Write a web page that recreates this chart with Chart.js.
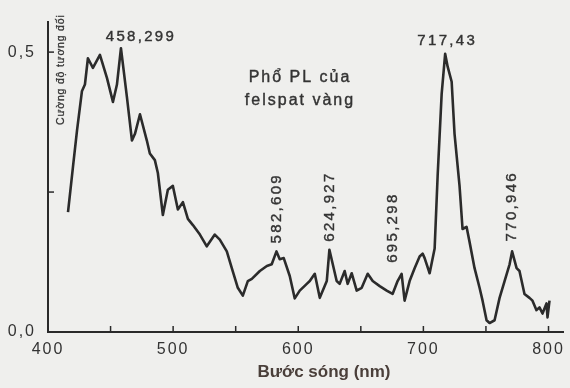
<!DOCTYPE html>
<html><head><meta charset="utf-8">
<script src="https://cdn.jsdelivr.net/npm/chart.js@4.4.1/dist/chart.umd.min.js"></script>
<style>html,body{margin:0;padding:0;background:#efefed;}#wrap{width:570px;height:388px;position:relative;}</style>
</head><body><div id="wrap"><canvas id="c" width="570" height="388"></canvas></div>
<script>
const wavelengths = [416.0,420.0,423.2,427.1,429.5,431.9,435.9,441.5,447.1,451.9,455.1,458.3,463.1,467.1,469.5,473.5,479.0,481.4,485.4,487.8,491.8,495.8,499.8,503.8,507.8,511.8,515.8,521.4,526.9,533.3,537.3,542.9,546.9,551.7,555.7,559.7,562.9,569.3,574.9,578.8,582.6,585.2,588.4,593.2,597.2,601.2,606.8,609.2,613.2,617.2,622.8,624.9,630.7,633.1,637.1,639.5,642.7,646.7,650.7,655.5,659.5,665.1,670.7,675.4,679.4,682.6,685.0,689.0,693.0,697.0,699.4,701.0,705.0,709.0,711.4,714.6,717.4,719.4,722.6,724.9,728.9,731.3,734.5,736.9,740.9,744.9,747.3,750.5,752.9,756.9,760.9,764.9,768.9,770.9,774.5,776.8,780.8,784.8,787.2,790.4,792.8,795.2,798.4,799.2,800.8];
const intensity = [0.214,0.296,0.360,0.430,0.442,0.489,0.472,0.495,0.454,0.411,0.442,0.507,0.419,0.342,0.354,0.389,0.342,0.319,0.307,0.284,0.209,0.254,0.261,0.219,0.232,0.202,0.191,0.174,0.153,0.174,0.165,0.144,0.114,0.079,0.065,0.091,0.095,0.109,0.118,0.121,0.144,0.130,0.132,0.100,0.060,0.074,0.086,0.091,0.104,0.061,0.091,0.147,0.091,0.086,0.109,0.086,0.105,0.074,0.079,0.104,0.091,0.082,0.074,0.068,0.091,0.104,0.056,0.091,0.114,0.135,0.140,0.132,0.105,0.149,0.279,0.425,0.497,0.474,0.447,0.354,0.261,0.184,0.188,0.161,0.114,0.079,0.056,0.021,0.016,0.021,0.061,0.091,0.121,0.144,0.114,0.109,0.068,0.061,0.056,0.039,0.044,0.033,0.051,0.026,0.056];
const xTickValues = [400,450,500,550,600,650,700,750,800];
const xTickLabels = ['400','','500','','600','','700','','800'];
const yTickValues = [0,0.25,0.5];
const yTickLabels = ['0,0','','0,5'];
const peakLabels = ['458,299','582,609','624,927','695,298','717,43','770,946'];
const peakWavelengths = [458.299,582.609,624.927,695.298,717.43,770.946];
const peakHeights = [0.507,0.144,0.147,0.104,0.497,0.144];
const titleLines = ['Phổ PL của','felspat vàng'];
const xTitle = 'Bước sóng (nm)';
const yTitle = 'Cường độ tương đối';

// layout of the peak annotations (pixel offsets from the peak)
const peakPlacement = [
  {rot:false, dx:20, dy:-7},
  {rot:true, dx:0, dy:-8},
  {rot:true, dx:0, dy:-8},
  {rot:true, dx:-25, dy:-11},
  {rot:false, dx:2, dy:-9},
  {rot:true, dx:0, dy:-10}
];
const INK = '#333333';
const FONT = '"Liberation Sans", Arial, sans-serif';

function heavyText(ctx, t, x, y, w){
  ctx.lineWidth = w; ctx.strokeStyle = ctx.fillStyle;
  ctx.strokeText(t, x, y); ctx.fillText(t, x, y);
}

const decor = {
  id:'decor',
  beforeDraw(chart){ chart.ctx.letterSpacing = '2px'; },
  afterDraw(chart){
    const {ctx, scales:{x,y}, chartArea:a} = chart;
    ctx.save();
    ctx.strokeStyle = '#2a2a2a'; ctx.lineWidth = 1.5;
    // inward tick marks
    xTickValues.forEach(v=>{ const px=x.getPixelForValue(v); ctx.beginPath(); ctx.moveTo(px,a.bottom); ctx.lineTo(px,a.bottom-6); ctx.stroke(); });
    yTickValues.forEach(v=>{ if(v===0) return; const py=y.getPixelForValue(v); ctx.beginPath(); ctx.moveTo(a.left,py); ctx.lineTo(a.left+6,py); ctx.stroke(); });
    ctx.fillStyle = INK;
    // peak annotations
    ctx.font = '15px '+FONT; ctx.letterSpacing='2.3px';
    peakLabels.forEach((t,i)=>{
      const p = peakPlacement[i];
      const px = x.getPixelForValue(peakWavelengths[i]) + p.dx;
      const py = y.getPixelForValue(peakHeights[i]) + p.dy;
      ctx.save();
      if(p.rot){ ctx.translate(px,py); ctx.rotate(-Math.PI/2); ctx.textAlign='left'; ctx.textBaseline='middle'; heavyText(ctx,t,0,0,0.4); }
      else { ctx.textAlign='center'; ctx.textBaseline='alphabetic'; heavyText(ctx,t,px,py,0.4); }
      ctx.restore();
    });
    // title
    ctx.font = '16px '+FONT; ctx.letterSpacing='2px'; ctx.textAlign='center'; ctx.textBaseline='alphabetic';
    heavyText(ctx, titleLines[0], 300, 82, 0.4);
    heavyText(ctx, titleLines[1], 300, 105, 0.4);
    // x title
    ctx.font = 'bold 17px '+FONT; ctx.letterSpacing='0px'; ctx.fillStyle='#4a3f3a';
    ctx.fillText(xTitle, 324, 377);
    // y title
    ctx.fillStyle = INK;
    ctx.font = '10.5px '+FONT; ctx.letterSpacing='0.8px';
    ctx.save(); ctx.translate(61,125); ctx.rotate(-Math.PI/2); ctx.textAlign='left'; ctx.textBaseline='middle'; heavyText(ctx,yTitle,0,0,0.3); ctx.restore();
    ctx.restore();
  }
};

new Chart(document.getElementById('c'), {
  type:'line',
  data:{ datasets:[{ data: wavelengths.map((w,i)=>({x:w,y:intensity[i]})), borderColor:'#2b2b2b', borderWidth:2.6, pointRadius:0, tension:0, fill:false, borderJoinStyle:'round' }] },
  options:{
    responsive:false, devicePixelRatio:1, animation:false,
    layout:{ padding:{ top:16, right:5, left:0, bottom:0 } },
    plugins:{ legend:{display:false}, tooltip:{enabled:false} },
    scales:{
      x:{ type:'linear', min:400, max:812,
        afterFit(s){ s.height = 56; },
        afterBuildTicks(s){ s.ticks = xTickValues.map(v=>({value:v})); },
        grid:{ display:false, drawTicks:false },
        border:{ display:true, color:'#2a2a2a', width:2 },
        ticks:{ padding:8, color:INK, font:{family:FONT, size:16}, maxRotation:0, autoSkip:false,
          callback:(v)=>{ const i=xTickValues.indexOf(v); return i>=0?xTickLabels[i]:''; } }
      },
      y:{ type:'linear', min:0, max:0.5545,
        afterFit(s){ s.width = 48; },
        afterBuildTicks(s){ s.ticks = yTickValues.map(v=>({value:v})); },
        grid:{ display:false, drawTicks:false },
        border:{ display:true, color:'#2a2a2a', width:2 },
        ticks:{ padding:12, color:INK, font:{family:FONT, size:16}, autoSkip:false,
          callback:(v)=>{ const i=yTickValues.indexOf(v); return i>=0?yTickLabels[i]:''; } }
      }
    }
  },
  plugins:[decor]
});
</script></body></html>
